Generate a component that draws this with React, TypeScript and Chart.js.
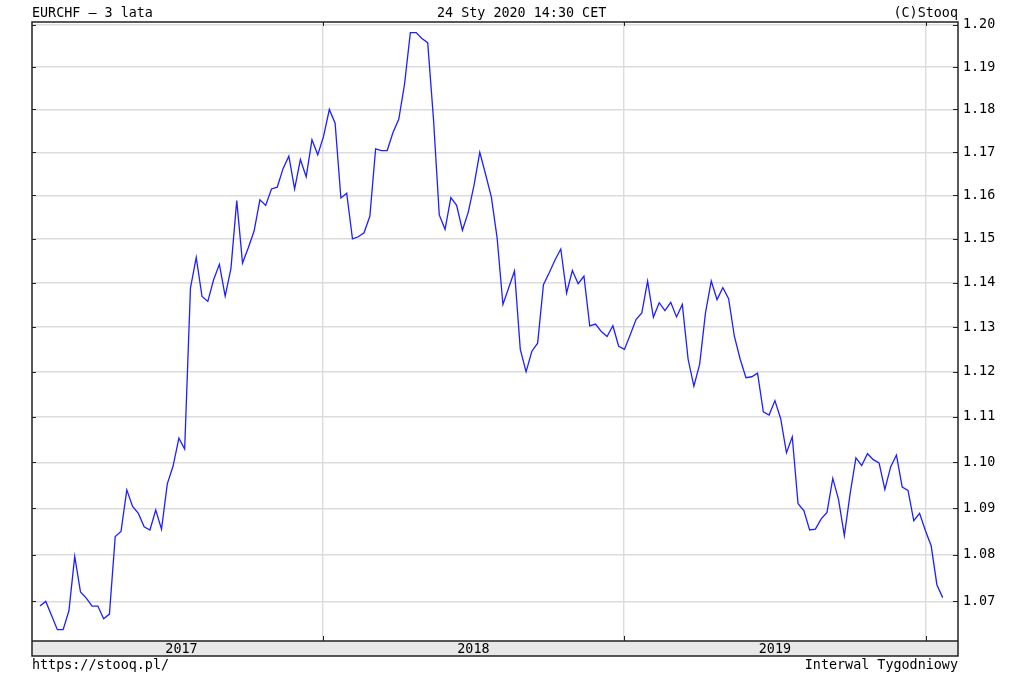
import React, { useEffect, useRef } from 'react';
import { Chart, registerables } from 'chart.js';

Chart.register(...registerables);

// Weekly EURCHF closes, Jan 2017 – Jan 2020
const eurchf: number[] = [
  1.069, 1.070, 1.067, 1.064, 1.064, 1.068, 1.0796, 1.072, 1.0707, 1.069,
  1.069, 1.0663, 1.0673, 1.0839, 1.085, 1.094, 1.0904, 1.0889, 1.086, 1.0853,
  1.0896, 1.0855, 1.0953, 1.0992, 1.1053, 1.1029, 1.1388, 1.1458, 1.1369, 1.1358,
  1.1407, 1.1442, 1.137, 1.1433, 1.1588, 1.1445, 1.148, 1.1518, 1.159, 1.1577,
  1.1615, 1.1619, 1.1662, 1.1691, 1.1615, 1.1683, 1.1643, 1.1729, 1.1694, 1.1737,
  1.18, 1.1768, 1.1594, 1.1605, 1.15, 1.1505, 1.1514, 1.1552, 1.1708, 1.1704,
  1.1704, 1.1746, 1.1777, 1.186, 1.1982, 1.1982, 1.1968, 1.1958, 1.1777, 1.1555,
  1.1522, 1.1595, 1.1577, 1.152, 1.1561, 1.1623, 1.170, 1.1649, 1.1596, 1.1502,
  1.1351, 1.1389, 1.1427, 1.125, 1.120, 1.1246, 1.1264, 1.1396, 1.1423, 1.1452,
  1.1477, 1.1377, 1.1428, 1.1398, 1.1415, 1.1303, 1.1307, 1.129, 1.1279, 1.1303,
  1.1257, 1.125, 1.1283, 1.1317, 1.1332, 1.1404, 1.1322, 1.1355, 1.1337, 1.1356,
  1.1323, 1.1351, 1.1228, 1.1168, 1.1217, 1.1332, 1.1404, 1.1362, 1.1389, 1.1364,
  1.1279, 1.1228, 1.1187, 1.1189, 1.1197, 1.1111, 1.1104, 1.1136, 1.1096, 1.1021,
  1.1056, 1.091, 1.0895, 1.0853, 1.0855, 1.0877, 1.0891, 1.0965, 1.0919, 1.0841,
  1.0932, 1.101, 1.0993, 1.1019, 1.1006, 1.0999, 1.0941, 1.099, 1.1016, 1.0946,
  1.0939, 1.0873, 1.0889, 1.0852, 1.0819, 1.0735, 1.0708,
];

const yTickValues: number[] = [1.07, 1.08, 1.09, 1.10, 1.11, 1.12, 1.13, 1.14, 1.15, 1.16, 1.17, 1.18, 1.19, 1.20];
const yearLabels: string[] = ['2017', '2018', '2019'];
// week index (from first data point) at which each following year begins
const yearStartWeeks: number[] = [48.9, 100.9, 153.1];

const titleLeft = 'EURCHF – 3 lata';
const titleCenter = '24 Sty 2020 14:30 CET';
const titleRight = '(C)Stooq';
const footLeft = 'https://stooq.pl/';
const footRight = 'Interwal Tygodniowy';

const FONT = "'DejaVu Sans Mono', monospace";
const FS = 13.4;
const GRID = '#dcdcdc';

const framePlugin = {
  id: 'stooqFrame',
  beforeDraw(chart: any) {
    const { ctx, chartArea: a, scales } = chart;
    const x = scales.x;
    ctx.save();
    ctx.fillStyle = '#ffffff';
    ctx.fillRect(0, 0, chart.width, chart.height);
    ctx.fillStyle = '#e8e8e8';
    ctx.fillRect(a.left, x.top, a.right - a.left, x.bottom - x.top);
    ctx.restore();
  },
  afterDraw(chart: any) {
    const { ctx, chartArea: a, scales } = chart;
    const x = scales.x;
    const y = scales.y;
    ctx.save();
    ctx.strokeStyle = '#222';
    ctx.lineWidth = 1.5;
    ctx.strokeRect(a.left, a.top, a.right - a.left, x.bottom - a.top);
    ctx.beginPath();
    ctx.moveTo(a.left, a.bottom);
    ctx.lineTo(a.right, a.bottom);
    ctx.stroke();
    ctx.lineWidth = 1;
    ctx.beginPath();
    yTickValues.forEach((v) => {
      const py = Math.round(y.getPixelForValue(v)) + 0.5;
      ctx.moveTo(a.left, py);
      ctx.lineTo(a.left + 4, py);
      ctx.moveTo(a.right - 5, py);
      ctx.lineTo(a.right, py);
    });
    yearStartWeeks.forEach((w) => {
      const px = Math.round(x.getPixelForValue(w)) + 0.5;
      ctx.moveTo(px, a.top);
      ctx.lineTo(px, a.top + 4);
      ctx.moveTo(px, a.bottom - 5);
      ctx.lineTo(px, a.bottom);
    });
    ctx.stroke();
    ctx.restore();
  },
};

export default function App() {
  const ref = useRef<HTMLCanvasElement | null>(null);

  useEffect(() => {
    document.body.style.margin = '0';
    const canvas = ref.current;
    if (!canvas) return;

    const yearMids = yearStartWeeks.map((w, i) => ((i === 0 ? 0 : yearStartWeeks[i - 1]) + w) / 2);

    const chart = new Chart(canvas, {
      type: 'line',
      data: {
        datasets: [
          {
            data: eurchf.map((v, i) => ({ x: i, y: v })),
            borderColor: '#1f1fff',
            borderWidth: 1.3,
            pointRadius: 0,
            fill: false,
            tension: 0,
          },
        ],
      },
      options: {
        responsive: false,
        animation: false,
        events: [],
        layout: { padding: { left: 32, right: 0, top: 22, bottom: 32 } },
        plugins: {
          legend: { display: false },
          tooltip: { enabled: false },
          title: { display: false },
        },
        scales: {
          x: {
            type: 'linear',
            position: 'bottom',
            min: -1.382,
            max: 158.64,
            afterBuildTicks: (scale: any) => {
              const t: any[] = [];
              yearMids.forEach((m) => t.push({ value: m }));
              yearStartWeeks.forEach((w) => t.push({ value: w }));
              scale.ticks = t;
            },
            afterFit: (scale: any) => {
              scale.height = 15;
            },
            border: { display: false },
            grid: {
              drawTicks: false,
              lineWidth: 1.4,
              color: (c: any) => (c.tick && yearStartWeeks.includes(c.tick.value) ? GRID : 'rgba(0,0,0,0)'),
            },
            ticks: {
              autoSkip: false,
              maxRotation: 0,
              padding: 0,
              color: '#000',
              font: { family: FONT, size: FS },
              callback: (v: any) => {
                const i = yearMids.indexOf(Number(v));
                return i >= 0 ? yearLabels[i] : '';
              },
            },
          },
          y: {
            type: 'logarithmic',
            position: 'right',
            min: 1.0616,
            max: 1.20072,
            afterBuildTicks: (scale: any) => {
              scale.ticks = yTickValues.map((v) => ({ value: v }));
            },
            afterFit: (scale: any) => {
              scale.width = 66;
            },
            border: { display: false },
            grid: { drawTicks: false, color: GRID, lineWidth: 1.4 },
            ticks: {
              padding: 5,
              color: '#000',
              font: { family: FONT, size: FS },
              callback: (v: any) => Number(v).toFixed(2),
            },
          },
        },
      },
      plugins: [framePlugin],
    } as any);

    return () => chart.destroy();
  }, []);

  const txt: React.CSSProperties = {
    position: 'absolute',
    fontFamily: FONT,
    fontSize: FS,
    lineHeight: 1,
    whiteSpace: 'pre',
    color: '#000',
  };

  return (
    <div style={{ position: 'absolute', left: 0, top: 0, width: 1024, height: 688, background: '#fff' }}>
      <canvas ref={ref} width={1024} height={688} style={{ position: 'absolute', left: 0, top: 0 }} />
      <div style={{ ...txt, left: 32, top: 6 }}>{titleLeft}</div>
      <div style={{ ...txt, left: 437, top: 6 }}>{titleCenter}</div>
      <div style={{ ...txt, right: 1024 - 958, top: 6 }}>{titleRight}</div>
      <div style={{ ...txt, left: 32, top: 658 }}>{footLeft}</div>
      <div style={{ ...txt, right: 1024 - 958, top: 658 }}>{footRight}</div>
    </div>
  );
}
